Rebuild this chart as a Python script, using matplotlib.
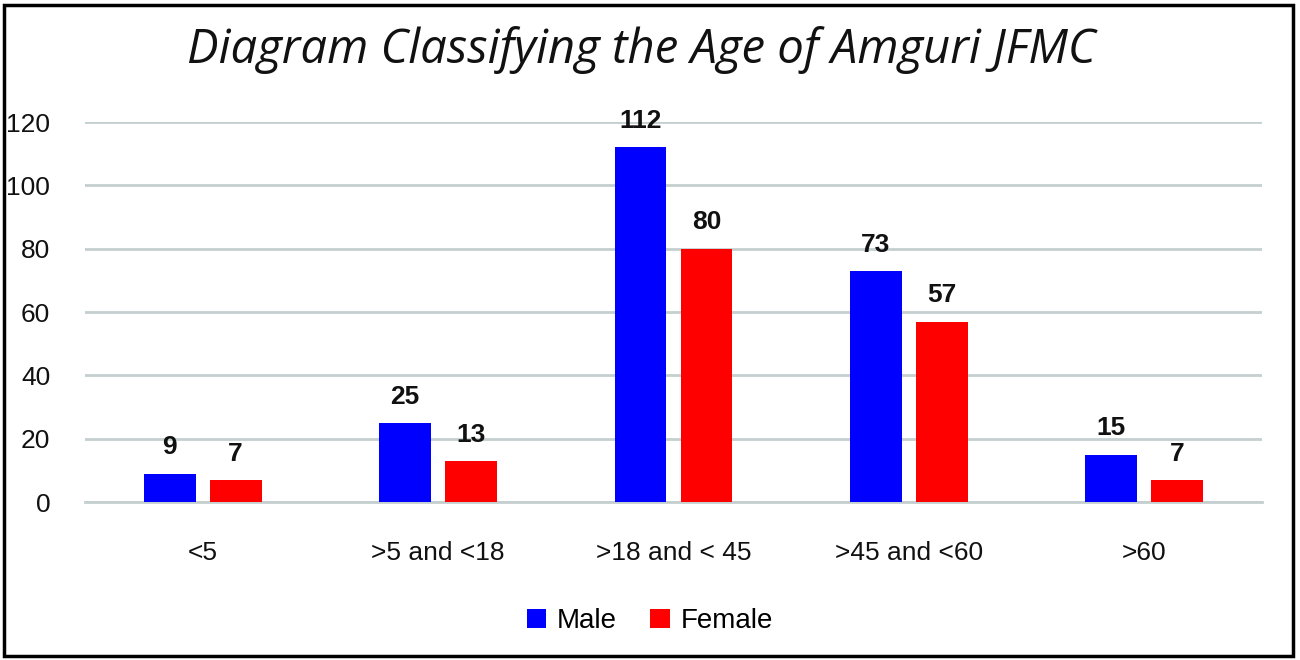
import numpy as np
import matplotlib.pyplot as plt
from matplotlib.patches import Rectangle

categories = ["<5", ">5 and <18", ">18 and < 45", ">45 and <60", ">60"]
male = [9, 25, 112, 73, 15]
female = [7, 13, 80, 57, 7]
yticks = [0, 20, 40, 60, 80, 100, 120]

plt.rcParams["font.family"] = ["Liberation Sans", "DejaVu Sans"]

fig = plt.figure(figsize=(13, 6.6), dpi=100)
ax = fig.add_axes([85 / 1300, 1 - 502 / 660, 1177 / 1300, 380 / 660])

x = np.arange(len(categories))
width = 0.22
off = 0.14
bm = ax.bar(x - off, male, width, color="#0000ff", label="Male", zorder=3)
bf = ax.bar(x + off, female, width, color="#ff0000", label="Female", zorder=3)

# value labels above bars
for bars, vals in ((bm, male), (bf, female)):
    for b, v in zip(bars, vals):
        ax.text(b.get_x() + b.get_width() / 2, v + 4.5, str(v), ha="center", va="bottom",
                fontsize=19, fontweight="bold", color="#111111")

ax.set_xlim(-0.5, len(categories) - 0.5)
ax.set_ylim(0, 120)
ax.set_yticks(yticks)
ax.set_yticklabels([str(t) for t in yticks], fontsize=19, color="#111111")
ax.set_xticks(x)
ax.set_xticklabels(categories, fontsize=19, color="#111111")
ax.tick_params(axis="both", length=0)
ax.tick_params(axis="y", pad=25)
ax.tick_params(axis="x", pad=28)
ax.grid(axis="y", color="#c5cfcf", linewidth=2, zorder=0)
for s in ["top", "right", "left"]:
    ax.spines[s].set_visible(False)
ax.spines["bottom"].set_color("#c5cfcf")
ax.spines["bottom"].set_linewidth(2)

fig.text(641 / 1300, 1 - 50 / 660, "Diagram Classifying the Age of Amguri JFMC",
         ha="center", va="center", fontsize=34, style="italic", family="Open Sans",
         color="#111111")

fig.legend(handles=[bm, bf], labels=["Male", "Female"], loc="center",
           bbox_to_anchor=(650 / 1300, 1 - 621 / 660), ncol=2, frameon=False,
           fontsize=20, handlelength=0.7, handleheight=0.7, handletextpad=0.4,
           columnspacing=1.2)

fig.patches.append(Rectangle((4 / 1300, 4 / 660), 1289 / 1300, 651 / 660,
                             transform=fig.transFigure, fill=False,
                             edgecolor="black", linewidth=2.5))

fig.savefig("out.png", dpi=100)
